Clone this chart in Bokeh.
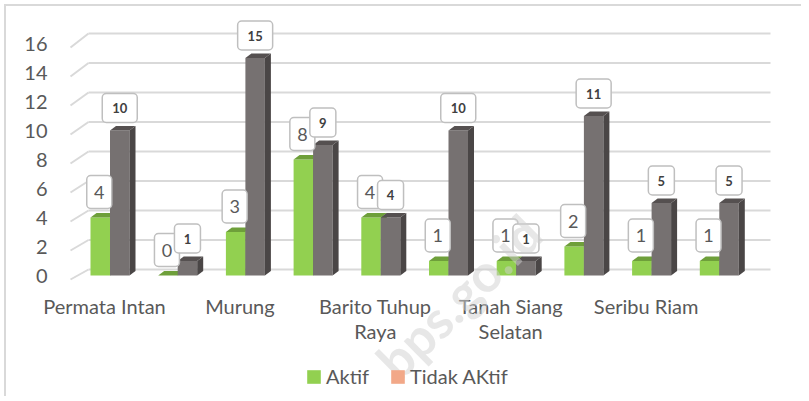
import textwrap
import numpy as np
from bokeh.plotting import figure
from bokeh.models import Range1d, FixedTicker, Legend, LegendItem, Label
from bokeh.core.properties import value
from bokeh.embed import file_html
from bokeh.resources import INLINE

# ---------------- data ----------------
kecamatan = ["Permata Intan", "Sungai Babuat", "Murung", "Laung Tuhup",
             "Barito Tuhup Raya", "Tanah Siang", "Tanah Siang Selatan",
             "Sumber Barito", "Seribu Riam", "Uut Murung"]
aktif = [4, 0, 3, 8, 4, 1, 1, 2, 1, 1]
tidak_aktif = [10, 1, 15, 9, 4, 10, 1, 11, 5, 5]
series_names = ["Aktif", "Tidak AKtif"]
y_ticks = [0, 2, 4, 6, 8, 10, 12, 14, 16]
shown_idx = [0, 2, 4, 6, 8]   # category labels that are displayed

# ---------------- colours / fonts ----------------
GREEN, GREEN_TOP, GREEN_SIDE = "#92D050", "#6E9F3A", "#5E8A30"
GRAY, GRAY_TOP, GRAY_SIDE = "#767171", "#555050", "#4A4646"
LEGEND_SALMON = "#F2A888"
GRID = "#D9D9D9"
TXT = "#595959"
FONT = "Lato"

# ---------------- geometry ----------------
OFF = 6                               # page offset of the canvas (margin + border)
W, H = 797, 392
FL_P, FR_P, FT_P = 36, 775, 15        # frame edges, page pixels
FB_P = OFF + H
PXX, PXY = 67.7, 14.5                 # px per category / per unit
X0, Y0 = 104, 275                     # page position of category 0 / value 0

x_start = -(X0 - FL_P) / PXX
x_end = (FR_P - X0) / PXX
y_start = -(FB_P - Y0) / PXY
y_end = (Y0 - FT_P) / PXY

p = figure(width=W, height=H, output_backend="svg", toolbar_location=None,
           x_range=Range1d(x_start, x_end), y_range=Range1d(y_start, y_end),
           min_border_left=FL_P - OFF, min_border_right=W - (FR_P - OFF),
           min_border_top=FT_P - OFF, min_border_bottom=0)
p.styles = {"margin-left": "4px", "margin-top": "4px",
            "border-left": "2px solid #D9D9D9", "border-top": "2px solid #D9D9D9"}
p.outline_line_color = None
p.xgrid.visible = False
p.ygrid.visible = False
p.xaxis.visible = False
p.background_fill_color = "white"
p.border_fill_color = "white"

# ---------------- back-wall grid lines (pseudo 3D) ----------------
yt = np.array(y_ticks, dtype=float)
GX_FRONT = (70 - X0) / PXX
GX_BACK_L = (88 - X0) / PXX
GX_BACK_R = (770 - X0) / PXX
front_y = yt - 4 / PXY
back_y = yt + (6 + 4 * yt / 16) / PXY
p.segment(x0=[GX_BACK_L] * len(yt), y0=back_y, x1=[GX_BACK_R] * len(yt), y1=back_y,
          line_color=GRID, line_width=2)
p.segment(x0=[GX_FRONT] * len(yt), y0=front_y, x1=[GX_BACK_L] * len(yt), y1=back_y,
          line_color=GRID, line_width=2)

# ---------------- bars ----------------
idx = np.arange(len(kecamatan), dtype=float)
BW = 19.5 / PXX
DX, DY = 6 / PXX, 4.5 / PXY
xg = idx + (-14 + 9.75) / PXX
xt = idx + (5.5 + 9.75) / PXX


def draw_bars(xc, vals, front, top, side):
    vals = np.array(vals, dtype=float)
    r = p.vbar(x=xc, top=vals, bottom=0, width=BW, fill_color=front, line_color=None)
    xl, xr = xc - BW / 2, xc + BW / 2
    side_xs = [[a, a + DX, a + DX, a] for a in xr]
    side_ys = [[0, DY, v + DY, v] for v in vals]
    p.patches(side_xs, side_ys, fill_color=side, line_color=None)
    top_xs = [[a, a + DX, b + DX, b] for a, b in zip(xl, xr)]
    top_ys = [[v, v + DY, v + DY, v] for v in vals]
    p.patches(top_xs, top_ys, fill_color=top, line_color=None)
    return r


r_aktif = draw_bars(xg, aktif, GREEN, GREEN_TOP, GREEN_SIDE)
r_tidak = draw_bars(xt, tidak_aktif, GRAY, GRAY_TOP, GRAY_SIDE)

# ---------------- data label boxes ----------------
a_vals = np.array(aktif, dtype=float)
t_vals = np.array(tidak_aktif, dtype=float)
p.rect(x=xg - 1 / PXX, y=a_vals + (9 + 16.5) / PXY, width=25, height=33,
       width_units="screen", height_units="screen", fill_color="white",
       line_color="#BFBFBF", line_width=1.5, border_radius=4)
p.text(x=xg - 1 / PXX, y=a_vals + (9 + 16.5) / PXY, text=[str(v) for v in aktif],
       text_align="center", text_baseline="middle", text_font=value(FONT),
       text_font_size="18px", text_color=TXT)
t_w = [26 if v < 10 else 35 for v in tidak_aktif]
p.rect(x=xt, y=t_vals + (8 + 14.5) / PXY, width=t_w, height=29,
       width_units="screen", height_units="screen", fill_color="white",
       line_color="#BFBFBF", line_width=1.5, border_radius=4)
p.text(x=xt, y=t_vals + (8 + 14.5) / PXY, text=[str(v) for v in tidak_aktif],
       text_align="center", text_baseline="middle", text_font=value(FONT),
       text_font_size="13px", text_font_style="bold", text_color="#404040")

# ---------------- category labels (every other one, as in the original) ----------------
cat_text = ["\n".join(textwrap.wrap(kecamatan[i], 13)) for i in shown_idx]
p.text(x=[float(i) for i in shown_idx], y=[(Y0 - 293) / PXY] * len(shown_idx),
       text=cat_text, text_align="center", text_baseline="top",
       text_font=value(FONT), text_font_size="20px", text_color=TXT,
       text_line_height=1.05)

# ---------------- y axis ----------------
p.yaxis.ticker = FixedTicker(ticks=y_ticks)
p.yaxis.axis_line_color = None
p.yaxis.major_tick_line_color = None
p.yaxis.minor_tick_line_color = None
p.yaxis.major_tick_out = 0
p.yaxis.major_tick_in = 0
p.yaxis.major_label_standoff = FL_P - 47
p.yaxis.major_label_text_font = FONT
p.yaxis.major_label_text_font_size = "20px"
p.yaxis.major_label_text_color = TXT

# ---------------- legend ----------------
r_leg2 = p.vbar(x=[x_start - 5], top=[0], bottom=[0], width=0.1,
                fill_color=LEGEND_SALMON, line_color=None)
legend = Legend(items=[LegendItem(label=series_names[0], renderers=[r_aktif]),
                       LegendItem(label=series_names[1], renderers=[r_leg2])],
                orientation="horizontal", location=(305 - FL_P, FB_P - 388),
                glyph_width=17, glyph_height=17, label_standoff=4, spacing=20,
                padding=4, margin=0, border_line_color=None,
                background_fill_alpha=0,
                label_text_font=FONT, label_text_font_size="20px",
                label_text_color=TXT)
p.add_layout(legend)

# ---------------- watermark ----------------
p.add_layout(Label(x=(458 - X0) / PXX, y=(Y0 - 296) / PXY, text="bps.go.id",
                   angle=0.78, text_align="center", text_baseline="middle",
                   text_font=FONT, text_font_size="52px", text_font_style="bold",
                   text_color="#D0D0D0", text_alpha=0.5))

open("out.html", "w").write(file_html(p, INLINE))
